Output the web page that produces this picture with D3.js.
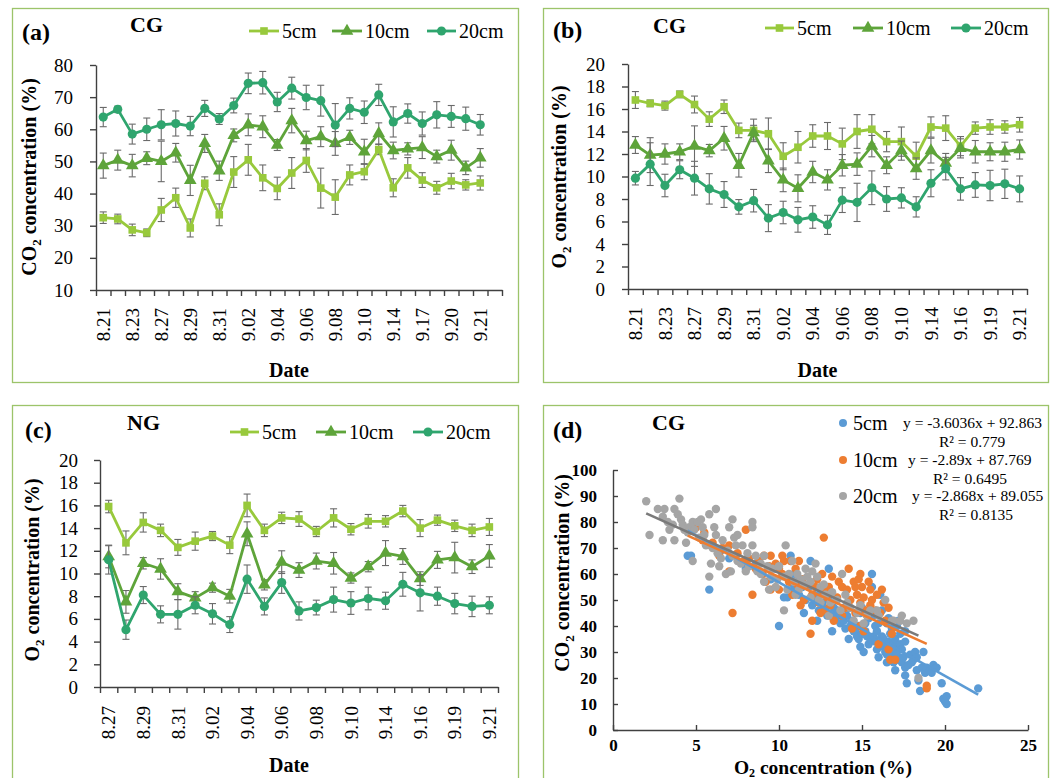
<!DOCTYPE html>
<html>
<head>
<meta charset="utf-8">
<script src="https://cdn.jsdelivr.net/npm/d3@7"></script>
<style>
  body { margin: 0; background: #fff; }
  text { font-family: "Liberation Serif", "Times New Roman", serif; fill: #000; }
</style>
</head>
<body>
<div id="chart"></div>
<script>
// ---- date labels (odd ones are hidden on the axis) ----
const datesA = ["8.21","8.22","8.23","8.25","8.27","8.28","8.29","8.30","8.31","9.01","9.02","9.03","9.04","9.05","9.06","9.07","9.08","9.09","9.10","9.12","9.14","9.15","9.17","9.18","9.20","9.20","9.21",""];
const datesB = ["8.21","8.22","8.23","8.25","8.27","8.28","8.29","8.30","8.31","9.01","9.02","9.03","9.04","9.05","9.06","9.07","9.08","9.09","9.10","9.12","9.14","9.15","9.16","9.17","9.19","9.20","9.21"];
const datesC = ["8.27","8.28","8.29","8.30","8.31","9.01","9.02","9.03","9.04","9.05","9.06","9.07","9.08","9.09","9.10","9.12","9.14","9.15","9.16","9.17","9.19","9.20","9.21"];

// ---- (a) CG, CO2 ----
const a5   = [32.5,32.1,28.7,27.8,34.9,38.7,29.3,43.2,33.4,46.7,50.5,44.9,41.6,46.4,50.3,41.7,38.9,45.8,46.8,53.7,41.8,48.0,44.2,41.8,43.9,42.7,43.3];
const a5e  = [1.8,1.5,1.8,1.2,3.6,3.0,2.8,2.0,3.4,4.8,4.8,4.0,3.5,4.8,3.7,6.2,5.4,3.1,2.5,1.6,2.8,3.2,2.3,2.0,2.4,1.6,2.2];
const a10  = [48.7,50.4,48.7,51.0,50.0,52.7,44.1,55.6,47.1,58.1,61.4,60.8,55.1,62.7,56.5,57.7,55.6,57.5,53.0,58.7,53.4,53.9,54.3,51.5,53.5,48.0,51.1];
const a10e = [3.9,3.1,3.5,2.0,6.3,2.9,4.7,2.8,3.0,2.0,3.4,3.4,1.7,3.8,2.9,3.1,3.7,2.2,3.9,3.3,2.6,1.9,3.4,2.0,3.1,2.1,2.9];
const a20  = [63.8,66.2,58.5,60.0,61.4,61.8,61.0,66.5,63.2,67.4,74.3,74.5,68.5,72.8,69.9,68.9,61.3,66.5,65.3,70.7,62.3,64.9,61.8,64.5,64.0,63.3,61.4];
const a20e = [3.0,1.0,3.1,3.5,4.7,3.9,3.0,2.5,1.7,2.3,3.2,3.5,3.0,3.4,3.8,4.8,6.7,3.3,3.5,3.3,4.7,3.0,3.6,4.1,3.4,3.6,3.2];

// ---- (b) CG, O2 ----
const b5   = [16.8,16.5,16.3,17.3,16.4,15.1,16.2,14.1,14.1,13.8,11.8,12.6,13.6,13.6,12.9,14.0,14.2,13.1,13.1,11.8,14.4,14.3,12.7,14.3,14.4,14.4,14.6];
const b5e  = [0.75,0.3,0.4,0.3,0.75,0.65,0.6,0.65,1.0,1.4,1.2,1.4,1.0,1.2,1.4,1.5,1.3,0.9,1.3,1.25,0.9,1.1,0.85,0.55,0.65,0.55,0.65];
const b10  = [12.8,11.9,12.0,12.2,12.7,12.3,13.4,11.0,13.9,11.4,9.7,8.95,10.4,9.7,11.0,11.1,12.7,11.0,12.3,10.7,12.3,11.2,12.5,12.2,12.2,12.2,12.4];
const b10e = [0.75,1.55,0.9,0.7,1.8,0.55,1.05,1.05,0.65,1.05,1.05,1.2,0.95,0.9,0.95,1.0,0.95,0.75,0.85,0.95,1.1,0.85,0.85,1.0,0.8,0.85,0.85];
const b20  = [9.85,11.1,9.2,10.6,9.85,8.9,8.4,7.3,7.85,6.3,6.8,6.15,6.4,5.7,7.9,7.7,9.0,8.0,8.1,7.3,9.4,10.7,8.9,9.25,9.2,9.35,8.9];
const b20e = [0.6,1.9,1.0,0.8,1.5,1.35,1.15,0.65,1.0,1.2,1.0,1.1,1.0,0.85,1.1,1.7,1.5,1.1,0.9,0.9,1.2,1.0,1.0,1.1,1.35,1.3,1.15];

// ---- (c) NG, O2 ----
const c5   = [15.9,12.7,14.5,13.8,12.3,12.85,13.3,12.5,16.0,13.8,14.9,14.8,13.7,14.9,13.9,14.6,14.6,15.5,14.0,14.7,14.2,13.8,14.1];
const c5e  = [0.55,1.05,0.85,0.55,0.7,0.8,0.4,0.75,1.0,0.55,0.5,0.65,0.45,0.8,0.5,0.6,0.5,0.5,0.75,0.45,0.5,0.55,0.75];
const c10  = [11.5,7.5,10.9,10.4,8.4,7.85,8.75,8.0,13.5,9.0,11.0,10.3,11.1,10.9,9.6,10.6,11.8,11.5,9.55,11.2,11.4,10.6,11.55];
const c10e = [1.0,1.0,0.5,0.9,0.7,0.55,0.4,0.6,1.05,0.45,1.0,0.65,0.7,0.95,0.45,0.45,1.1,0.7,0.6,0.75,1.35,0.6,1.0];
const c20  = [11.2,5.05,8.1,6.4,6.4,7.2,6.45,5.5,9.5,7.1,9.2,6.7,7.0,7.7,7.4,7.8,7.6,9.05,8.3,8.0,7.35,7.1,7.2];
const c20e = [1.25,0.85,0.75,0.75,1.3,0.75,0.9,0.7,1.25,0.75,0.95,0.8,0.65,1.1,1.0,1.0,0.75,1.05,1.6,0.8,0.9,0.9,0.75];

// ---- (d) CG scatter: [O2, CO2] ----
const s5 = [[4.5,67],[4.7,67],[5.8,54],[6.5,69],[7.0,66],[8.0,62],[8.6,64],[9.0,60],[9.5,58],[9.8,62],[10.0,40],[10.3,51],[10.5,51],[10.7,67],[10.8,55],[10.9,60],[11.0,58],[11.2,52],[11.4,55],[11.5,45],[11.6,50],[11.8,55],[11.9,65],[12.0,48],[12.1,52],[12.2,50],[12.3,42],[12.4,46],[12.5,53],[12.6,49],[12.7,47],[12.9,44],[13.0,62],[13.0,50],[13.1,44],[13.2,38],[13.3,47],[13.4,43],[13.5,46],[13.6,44],[13.7,41],[13.9,42],[13.9,47],[14.0,39],[14.1,44],[14.2,35],[14.2,47],[14.3,40],[14.4,42],[14.5,38],[14.6,38],[14.7,36],[14.8,35],[14.8,40],[14.9,32],[14.9,45],[15.0,37],[15.0,47],[15.1,30],[15.2,41],[15.2,38],[15.3,36],[15.4,33],[15.4,43],[15.5,35],[15.6,60],[15.6,55],[15.7,36],[15.7,44],[15.8,34],[15.8,40],[15.9,31],[15.9,38],[16.0,41],[16.0,28],[16.1,52],[16.1,33],[16.2,36],[16.2,46],[16.3,35],[16.3,32],[16.4,30],[16.5,29],[16.5,26],[16.5,41],[16.6,34],[16.6,43],[16.7,37],[16.7,32],[16.8,39],[16.9,33],[16.9,26],[16.9,29],[17.0,31],[17.0,23],[17.0,35],[17.1,29],[17.1,40],[17.2,27],[17.2,42],[17.3,37],[17.3,33],[17.4,31],[17.4,26],[17.5,28],[17.6,24],[17.6,21],[17.6,34],[17.6,38],[17.7,18],[17.8,25],[17.9,29],[18.0,26],[18.1,27],[18.2,30],[18.3,23],[18.3,28],[18.4,19],[18.5,15],[18.6,24],[18.7,30],[18.8,22],[18.9,24],[19.1,23],[19.2,22],[19.3,25],[19.5,24],[19.8,18],[19.9,12],[20.0,11],[20.1,13],[20.1,10],[22.0,16]];
const s10 = [[4.5,77],[5.0,78],[5.4,73],[5.5,76],[5.9,71],[6.0,72],[6.4,67],[6.6,70],[7.0,61],[7.0,71],[7.2,45],[7.5,68],[7.9,65],[8.0,77],[8.2,66],[8.4,52],[8.6,62],[8.8,65],[9.0,60],[9.1,67],[9.2,57],[9.4,63],[9.5,67],[9.5,54],[9.8,64],[10.0,62],[10.0,54],[10.2,60],[10.2,67],[10.3,65],[10.5,59],[10.6,57],[10.7,65],[10.8,52],[11.0,62],[11.1,56],[11.2,65],[11.3,48],[11.4,58],[11.5,50],[11.8,56],[11.9,37],[12.0,42],[12.0,52],[12.2,55],[12.3,58],[12.4,49],[12.5,45],[12.6,60],[12.7,74],[12.7,53],[12.8,46],[12.9,51],[13.0,55],[13.1,48],[13.2,59],[13.3,42],[13.5,51],[13.6,57],[13.8,55],[13.8,44],[14.0,47],[14.1,54],[14.2,62],[14.3,50],[14.4,39],[14.5,57],[14.6,55],[14.6,45],[14.7,52],[14.8,58],[14.9,60],[14.9,49],[14.9,40],[15.0,55],[15.1,38],[15.1,51],[15.2,46],[15.3,44],[15.4,57],[15.5,54],[15.5,48],[15.6,50],[15.8,46],[15.9,52],[16.0,33],[16.1,45],[16.2,54],[16.3,49],[16.4,42],[16.6,47],[16.6,31],[16.7,27],[16.8,37],[17.0,27],[18.9,17],[18.9,16]];
const s20 = [[2.0,88],[2.2,75],[2.7,85],[3.0,82],[3.0,73],[3.1,85],[3.3,80],[3.4,77],[3.6,79],[3.7,85],[3.7,73],[3.9,83],[4.0,89],[4.1,81],[4.2,79],[4.3,77],[4.4,72],[4.5,76],[4.6,78],[4.8,80],[4.8,65],[4.9,77],[5.1,80],[5.2,74],[5.3,81],[5.4,78],[5.5,75],[5.6,71],[5.8,83],[5.8,59],[5.9,64],[6.0,70],[6.1,78],[6.2,85],[6.2,75],[6.3,68],[6.4,63],[6.5,66],[6.6,73],[6.8,60],[6.9,69],[7.0,78],[7.1,61],[7.2,81],[7.2,67],[7.3,74],[7.4,71],[7.5,75],[7.5,65],[7.7,64],[7.8,71],[8.0,61],[8.1,68],[8.2,63],[8.4,80],[8.4,78],[8.4,71],[8.6,67],[8.7,61],[8.9,64],[8.9,60],[9.1,57],[9.1,67],[9.3,63],[9.4,54],[9.5,59],[9.6,62],[9.8,55],[9.9,58],[10.0,63],[10.3,59],[10.3,46],[10.4,71],[10.5,54],[10.6,60],[10.8,65],[10.9,57],[11.0,52],[11.1,60],[11.2,54],[11.3,58],[11.5,56],[11.6,62],[11.7,59],[11.9,51],[11.9,57],[12.0,61],[12.2,64],[12.3,59],[12.4,50],[12.5,55],[12.5,49],[12.7,56],[12.8,52],[13.0,44],[13.1,49],[13.2,53],[13.5,50],[13.7,46],[13.8,60],[14.0,52],[14.1,49],[14.3,47],[14.5,42],[14.7,45],[14.9,48],[15.1,41],[15.3,44],[15.5,46],[15.9,46],[16.0,44],[16.4,50],[16.8,42],[16.9,42],[17.3,42],[17.4,44],[17.7,41],[18.1,42],[18.4,20]];
const fits = [
  { name: "5cm",  slope: -3.6036, icept: 92.863, r2: "0.779"  },
  { name: "10cm", slope: -2.89,   icept: 87.769, r2: "0.6495" },
  { name: "20cm", slope: -2.868,  icept: 89.055, r2: "0.8135" }
];
const depthNames = ["5cm", "10cm", "20cm"];

const w = 1062, h = 778;
const greens = ["#98C93C", "#5EA43A", "#2FA56E"];
const markers = [d3.symbolSquare, d3.symbolTriangle, d3.symbolCircle];
const markerSize = [58, 70, 66];

const svg = d3.select("#chart").append("svg")
  .attr("width", w).attr("height", h);
svg.append("rect").attr("width", w).attr("height", h).attr("fill", "#fff");

// panel frames
[[12, 8, 506, 374], [543, 8, 505, 374], [12, 405, 506, 390], [543, 405, 505, 390]]
  .forEach(([x, y, ww, hh]) => svg.append("rect")
    .attr("x", x + 0.5).attr("y", y + 0.5).attr("width", ww).attr("height", hh)
    .attr("fill", "none").attr("stroke", "#9CC46A").attr("stroke-width", 1.3));

function yTitle(g, x, y, pre, sub, post, size) {
  const t = g.append("text")
    .attr("transform", `translate(${x},${y}) rotate(-90)`)
    .attr("text-anchor", "middle").attr("font-weight", "bold").attr("font-size", size);
  t.append("tspan").text(pre);
  t.append("tspan").text(sub).attr("font-size", size * 0.65).attr("dy", 5);
  t.append("tspan").text(post).attr("dy", -5);
  return t;
}

function linePanel(cfg) {
  const g = svg.append("g");
  const n = cfg.dates.length;
  const x = d3.scaleBand().domain(d3.range(n)).range([cfg.x0, cfg.x1]);
  const xl = d3.scaleLinear().domain([0, n]).range([cfg.x0, cfg.x1]);
  const y = d3.scaleLinear().domain(cfg.yDomain).range([cfg.yBot, cfg.yTop]);

  // y axis
  const ya = g.append("g").attr("transform", `translate(${cfg.x0},0)`)
    .call(d3.axisLeft(y).tickValues(cfg.yTicks).tickSize(6).tickSizeOuter(0).tickPadding(cfg.yPad));
  ya.selectAll("text").attr("font-size", 19).attr("font-family", "Liberation Serif").attr("fill", "#000");

  // x axis ticks at category borders
  const xa = g.append("g").attr("transform", `translate(0,${cfg.yBot})`)
    .call(d3.axisBottom(xl).tickValues(d3.range(n + 1)).tickFormat("").tickSize(6).tickSizeOuter(0));
  // x labels
  const xt = g.append("g").attr("transform", `translate(0,${cfg.yBot})`)
    .call(d3.axisBottom(x).tickSize(0).tickFormat((i) => (i % 2 === 0 ? cfg.dates[i] : "")));
  xt.select(".domain").remove();
  xt.selectAll("text")
    .attr("transform", "rotate(-90)").attr("text-anchor", "end")
    .attr("x", -cfg.labOff).attr("y", 0).attr("dy", "0.35em")
    .attr("font-size", 19).attr("font-family", "Liberation Serif").attr("fill", "#000");
  [ya, xa].forEach((a) => {
    a.selectAll("path, line").attr("stroke", "#404040").attr("stroke-width", 1.4);
  });

  cfg.series.forEach((s, k) => {
    const cx = (i) => x(i) + x.bandwidth() / 2;
    // error bars
    const eb = g.append("g").attr("stroke", "#6a6a6a").attr("stroke-width", 1.1);
    s.vals.forEach((v, i) => {
      const e = s.errs[i];
      eb.append("line").attr("x1", cx(i)).attr("x2", cx(i)).attr("y1", y(v - e)).attr("y2", y(v + e));
      eb.append("line").attr("x1", cx(i) - 3.5).attr("x2", cx(i) + 3.5).attr("y1", y(v - e)).attr("y2", y(v - e));
      eb.append("line").attr("x1", cx(i) - 3.5).attr("x2", cx(i) + 3.5).attr("y1", y(v + e)).attr("y2", y(v + e));
    });
    g.append("path").datum(s.vals)
      .attr("fill", "none").attr("stroke", greens[k]).attr("stroke-width", 2.8)
      .attr("stroke-linejoin", "round")
      .attr("d", d3.line().x((d, i) => cx(i)).y((d) => y(d)));
    g.selectAll(null).data(s.vals).enter().append("path")
      .attr("transform", (d, i) => `translate(${cx(i)},${y(d)})`)
      .attr("d", d3.symbol().type(markers[k]).size(markerSize[k]))
      .attr("fill", greens[k]);
  });

  // legend
  cfg.legend.forEach(([lx, tx], k) => {
    g.append("line").attr("x1", lx).attr("x2", tx - 3).attr("y1", cfg.legY).attr("y2", cfg.legY)
      .attr("stroke", greens[k]).attr("stroke-width", 2.8);
    g.append("path").attr("transform", `translate(${(lx + tx - 3) / 2},${cfg.legY})`)
      .attr("d", d3.symbol().type(markers[k]).size(markerSize[k])).attr("fill", greens[k]);
    g.append("text").attr("x", tx).attr("y", cfg.legY + 7).attr("font-size", 20).text(depthNames[k]);
  });

  g.append("text").attr("x", cfg.tag[0]).attr("y", cfg.tag[1]).attr("font-size", 24)
    .attr("font-weight", "bold").text(cfg.tagText);
  g.append("text").attr("x", cfg.grp[0]).attr("y", cfg.grp[1]).attr("font-size", 22)
    .attr("font-weight", "bold").text(cfg.grpText);
  g.append("text").attr("x", (cfg.x0 + cfg.x1) / 2 - 10).attr("y", cfg.dateY).attr("text-anchor", "middle")
    .attr("font-size", 20).attr("font-weight", "bold").text("Date");
  yTitle(g, cfg.yt[0], cfg.yt[1], cfg.yPre, "2", " concentration (%)", 20);
}

linePanel({
  dates: datesA, x0: 96, x1: 502, yTop: 65, yBot: 290, yDomain: [10, 80], yTicks: d3.range(10, 81, 10),
  yPad: 17, labOff: 18, series: [{ vals: a5, errs: a5e }, { vals: a10, errs: a10e }, { vals: a20, errs: a20e }],
  legend: [[249, 282], [332, 365], [427, 459]], legY: 31,
  tag: [22, 40], tagText: "(a)", grp: [130, 32], grpText: "CG", dateY: 377, yt: [36, 177], yPre: "CO"
});
linePanel({
  dates: datesB, x0: 628, x1: 1027, yTop: 64, yBot: 289, yDomain: [0, 20], yTicks: d3.range(0, 21, 2),
  yPad: 17, labOff: 18, series: [{ vals: b5, errs: b5e }, { vals: b10, errs: b10e }, { vals: b20, errs: b20e }],
  legend: [[765, 797], [853, 886], [951, 984]], legY: 28,
  tag: [553, 38], tagText: "(b)", grp: [653, 33], grpText: "CG", dateY: 377, yt: [566, 177], yPre: "O"
});
linePanel({
  dates: datesC, x0: 100, x1: 498, yTop: 460, yBot: 687, yDomain: [0, 20], yTicks: d3.range(0, 21, 2),
  yPad: 16, labOff: 19, series: [{ vals: c5, errs: c5e }, { vals: c10, errs: c10e }, { vals: c20, errs: c20e }],
  legend: [[230, 262], [316, 349], [413, 446]], legY: 432,
  tag: [25, 438], tagText: "(c)", grp: [127, 430], grpText: "NG", dateY: 772, yt: [39, 570], yPre: "O"
});

// ---- (d) scatter ----
(function () {
  const g = svg.append("g");
  const x = d3.scaleLinear().domain([0, 25]).range([613, 1028]);
  const y = d3.scaleLinear().domain([0, 100]).range([730, 470]);
  const cols = ["#5B9BD5", "#ED7D31", "#A5A5A5"];
  const lineCols = ["#5B9BD5", "#ED7D31", "#7A7A7A"];

  const ya = g.append("g").attr("transform", "translate(613,0)")
    .call(d3.axisLeft(y).tickValues(d3.range(0, 101, 10)).tickSize(-5).tickSizeOuter(0).tickPadding(16));
  const xa = g.append("g").attr("transform", "translate(0,730)")
    .call(d3.axisBottom(x).tickValues(d3.range(0, 26, 5)).tickSize(-5).tickSizeOuter(0).tickPadding(9));
  [ya, xa].forEach((a) => {
    a.selectAll("path, line").attr("stroke", "#404040").attr("stroke-width", 1.4);
    a.selectAll("text").attr("font-size", 17).attr("font-weight", "bold")
      .attr("font-family", "Liberation Serif").attr("fill", "#000");
  });

  [s5, s10, s20].forEach((pts, k) => {
    g.selectAll(null).data(pts).enter().append("circle")
      .attr("cx", (d) => x(d[0])).attr("cy", (d) => y(d[1])).attr("r", 4.2)
      .attr("fill", cols[k]);
  });
  [s5, s10, s20].forEach((pts, k) => {
    const [lo, hi] = d3.extent(pts, (d) => d[0]);
    const f = fits[k];
    g.append("line")
      .attr("x1", x(lo)).attr("y1", y(f.slope * lo + f.icept))
      .attr("x2", x(hi)).attr("y2", y(f.slope * hi + f.icept))
      .attr("stroke", lineCols[k]).attr("stroke-width", 2.6);
  });

  // legend with equations
  const legY = [423, 460, 496];
  const eqX = [903, 908, 912];
  const r2X = [939, 933, 939];
  fits.forEach((f, k) => {
    g.append("circle").attr("cx", 843).attr("cy", legY[k]).attr("r", 4).attr("fill", cols[k]);
    g.append("text").attr("x", 853).attr("y", legY[k] + 7).attr("font-size", 20).text(f.name);
    g.append("text").attr("x", eqX[k]).attr("y", legY[k] + 5).attr("font-size", 15.5)
      .text(`y = ${f.slope}x + ${f.icept}`);
    g.append("text").attr("x", r2X[k]).attr("y", legY[k] + 24).attr("font-size", 15.5)
      .text(`R² = ${f.r2}`);
  });

  g.append("text").attr("x", 553).attr("y", 438).attr("font-size", 24).attr("font-weight", "bold").text("(d)");
  g.append("text").attr("x", 652).attr("y", 430).attr("font-size", 22).attr("font-weight", "bold").text("CG");
  yTitle(g, 569, 573, "CO", "2", " concentration (%)", 20);
  const xt = g.append("text").attr("x", 823).attr("y", 774).attr("text-anchor", "middle")
    .attr("font-size", 19.5).attr("font-weight", "bold");
  xt.append("tspan").text("O");
  xt.append("tspan").text("2").attr("font-size", 12).attr("dy", 3);
  xt.append("tspan").text(" concentration (%)").attr("dy", -3);
})();
</script>
</body>
</html>
